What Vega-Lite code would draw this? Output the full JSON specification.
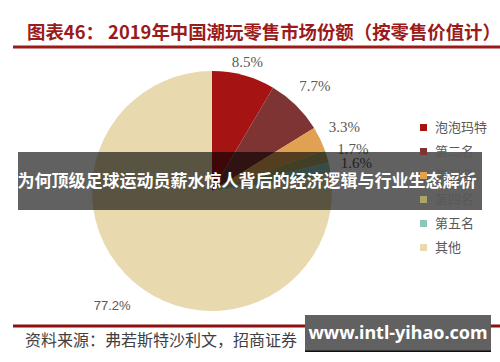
{
  "$schema": "https://vega.github.io/schema/vega-lite/v6.json",
  "width": 240,
  "height": 240,
  "autosize": {"type": "none"},
  "padding": {"left": 92, "top": 71, "right": 168, "bottom": 51},
  "background": "#ffffff",
  "config": {"view": {"stroke": null}},
  "datasets": {
    "share": [
      {"name": "泡泡玛特", "share": 8.5, "rank": 1, "label": "8.5%"},
      {"name": "第二名", "share": 7.7, "rank": 2, "label": "7.7%"},
      {"name": "第三名", "share": 3.3, "rank": 3, "label": "3.3%"},
      {"name": "第四名", "share": 1.7, "rank": 4, "label": "1.7%"},
      {"name": "第五名", "share": 1.6, "rank": 5, "label": "1.6%"},
      {"name": "其他", "share": 77.2, "rank": 6, "label": "77.2%"}
    ]
  },
  "layer": [
    {
      "data": {"name": "share"},
      "mark": {"type": "arc", "outerRadius": 120},
      "encoding": {
        "theta": {"field": "share", "type": "quantitative", "stack": true},
        "order": {"field": "rank", "type": "quantitative"},
        "color": {
          "field": "name",
          "type": "nominal",
          "scale": {
            "domain": ["泡泡玛特", "第二名", "第三名", "第四名", "第五名", "其他"],
            "range": ["#A51313", "#7D3432", "#E0A152", "#ADA567", "#8CC7BB", "#E9D9AE"]
          },
          "legend": {
            "title": null,
            "orient": "none",
            "legendX": 325,
            "legendY": 50,
            "symbolType": "square",
            "symbolSize": 49,
            "symbolStrokeWidth": 0,
            "labelFont": "Noto Sans CJK SC",
            "labelFontSize": 13,
            "labelColor": "#595959",
            "labelOffset": 5,
            "rowPadding": 10
          }
        }
      }
    },
    {
      "data": {"name": "share"},
      "mark": {"type": "text", "radius": {"expr": "datum.share > 8 ? 134 : 147"}, "font": "Liberation Serif", "fontSize": 15, "color": "#595959", "align": "center", "baseline": "middle"},
      "encoding": {
        "theta": {"field": "share", "type": "quantitative", "stack": true},
        "order": {"field": "rank", "type": "quantitative"},
        "text": {"condition": {"test": "datum.name === '其他'", "value": ""}, "field": "label"}
      }
    },
    {
      "data": {"name": "share"},
      "mark": {"type": "text", "radius": 152, "font": "Liberation Sans", "fontSize": 13, "color": "#595959", "align": "center", "baseline": "middle"},
      "encoding": {
        "theta": {"field": "share", "type": "quantitative", "stack": true},
        "order": {"field": "rank", "type": "quantitative"},
        "text": {"condition": {"test": "datum.name !== '其他'", "value": ""}, "field": "label"}
      }
    },
    {
      "data": {"values": [{"t": "图表46： 2019年中国潮玩零售市场份额（按零售价值计）"}]},
      "mark": {"type": "text", "x": -65, "y": -38, "align": "left", "baseline": "middle", "font": "Noto Sans CJK SC", "fontSize": 18.4, "fontWeight": "bold", "color": "#9B1B1B"},
      "encoding": {"text": {"field": "t"}}
    },
    {
      "data": {"values": [{}]},
      "mark": {"type": "rect", "x": -79, "x2": 408, "y": -25.5, "y2": -22.5, "fill": "#9B1B1B"},
      "encoding": {}
    },
    {
      "data": {"values": [{}]},
      "mark": {"type": "rect", "x": -79, "x2": 408, "y": 253.5, "y2": 256.5, "fill": "#8B1010"},
      "encoding": {}
    },
    {
      "data": {"values": [{"t": "资料来源：弗若斯特沙利文，招商证券"}]},
      "mark": {"type": "text", "x": -67, "y": 270, "align": "left", "baseline": "middle", "font": "Noto Sans CJK SC", "fontSize": 16, "color": "#404040"},
      "encoding": {"text": {"field": "t"}}
    },
    {
      "data": {"values": [{}]},
      "mark": {"type": "rect", "x": -74, "x2": 390, "y": 81, "y2": 139, "fill": "#000000", "opacity": 0.62},
      "encoding": {}
    },
    {
      "data": {"values": [{"t": "为何顶级足球运动员薪水惊人背后的经济逻辑与行业生态解析"}]},
      "mark": {"type": "text", "x": 155, "y": 111, "align": "center", "baseline": "middle", "font": "Noto Sans CJK SC", "fontSize": 17, "fontWeight": "bold", "color": "#ffffff"},
      "encoding": {"text": {"field": "t"}}
    },
    {
      "data": {"values": [{}]},
      "mark": {"type": "rect", "x": 213, "x2": 399, "y": 244, "y2": 281, "fill": "#616161"},
      "encoding": {}
    },
    {
      "data": {"values": [{}]},
      "mark": {"type": "rect", "x": 213, "x2": 399, "y": 279.5, "y2": 281, "fill": "#111111"},
      "encoding": {}
    },
    {
      "data": {"values": [{"t": "www.intl-yihao.com"}]},
      "mark": {"type": "text", "x": 306, "y": 263, "align": "center", "baseline": "middle", "font": "Noto Sans", "fontSize": 18, "fontWeight": "bold", "color": "#ffffff"},
      "encoding": {"text": {"field": "t"}}
    }
  ]
}
